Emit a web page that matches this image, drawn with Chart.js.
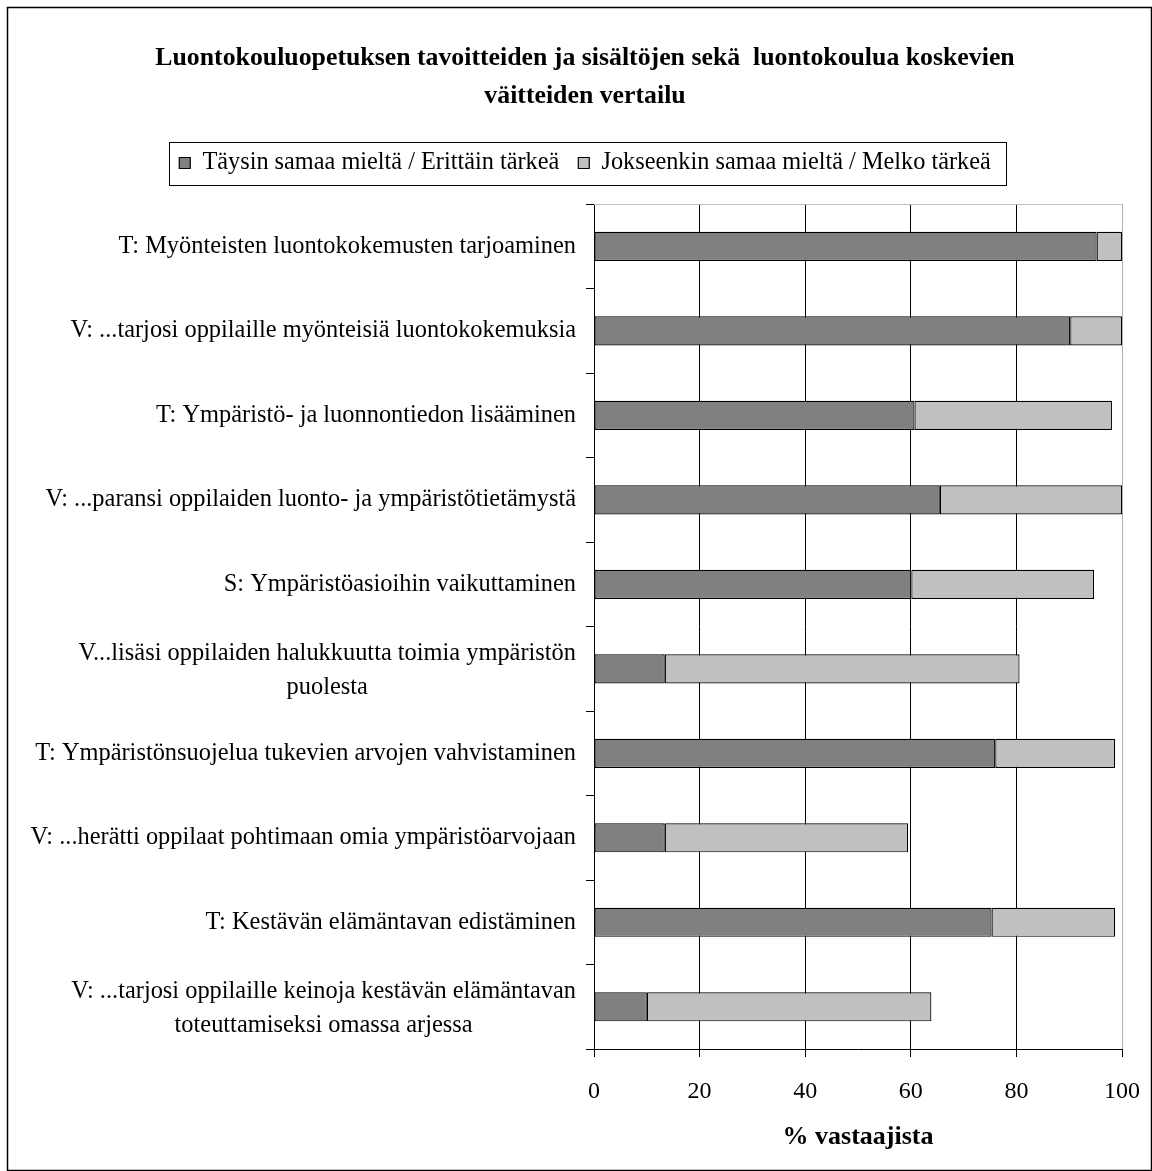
<!DOCTYPE html>
<html lang="fi">
<head>
<meta charset="utf-8">
<title>Luontokouluopetuksen tavoitteiden ja sisältöjen vertailu</title>
<script src="https://cdn.jsdelivr.net/npm/chart.js@4/dist/chart.umd.min.js"></script>
<style>
  html, body { margin: 0; padding: 0; background: #fff; }
  #wrap { position: relative; width: 1152px; height: 1171px; }
  canvas { display: block; }
</style>
</head>
<body>
<div id="wrap"><canvas id="chart" width="1152" height="1171"></canvas></div>
<script>
// Väittämät / tavoitteet (rivit ylhäältä alas)
const categories = [
  ['T: Myönteisten luontokokemusten tarjoaminen'],
  ['V: ...tarjosi oppilaille myönteisiä luontokokemuksia'],
  ['T: Ympäristö- ja luonnontiedon lisääminen'],
  ['V: ...paransi oppilaiden luonto- ja ympäristötietämystä'],
  ['S: Ympäristöasioihin vaikuttaminen'],
  ['V...lisäsi oppilaiden halukkuutta toimia ympäristön', 'puolesta'],
  ['T: Ympäristönsuojelua tukevien arvojen vahvistaminen'],
  ['V: ...herätti oppilaat pohtimaan omia ympäristöarvojaan'],
  ['T: Kestävän elämäntavan edistäminen'],
  ['V: ...tarjosi oppilaille keinoja kestävän elämäntavan', 'toteuttamiseksi omassa arjessa']
];

// % vastaajista
const taysinSamaa = [95.2, 90.2, 60.7, 65.5, 60.1, 13.4, 76.0, 13.4, 75.3, 10.0];
const jokseenkinSamaa = [4.8, 9.8, 37.4, 34.5, 34.6, 67.2, 22.7, 46.1, 23.4, 53.9];

const seriesNames = ['Täysin samaa mieltä / Erittäin tärkeä', 'Jokseenkin samaa mieltä / Melko tärkeä'];
const xTicks = [0, 20, 40, 60, 80, 100];

const titleLines = ['Luontokouluopetuksen tavoitteiden ja sisältöjen sekä  luontokoulua koskevien', 'väitteiden vertailu'];
const xTitle = '% vastaajista';

const SERIF = "'Liberation Serif', 'Times New Roman', serif";
const PAD_LEFT = 48;
const PLOT_LEFT = 594;
const LEGEND_GAP = 19;

// Tyhjä väli selitteen ja kuva-alueen väliin
const legendGap = {
  id: 'legendGap',
  beforeInit(chart) {
    const spacer = {
      position: 'top',
      weight: 0,
      fullSize: true,
      options: {},
      width: 0,
      height: 0,
      left: 0, top: 0, right: 0, bottom: 0,
      isHorizontal() { return true; },
      update(maxWidth) { this.width = maxWidth; this.height = LEGEND_GAP; },
      draw() {}
    };
    Chart.layouts.addBox(chart, spacer);
  }
};

// Kehys, kuvaalueen reunat, selitteen laatikko ja luokkien nimet
const decorations = {
  id: 'decorations',
  beforeDraw(chart) {
    const ctx = chart.ctx;
    ctx.save();
    ctx.fillStyle = '#fff';
    ctx.fillRect(0, 0, chart.width, chart.height);
    ctx.strokeStyle = '#000';
    ctx.lineWidth = 1.5;
    ctx.strokeRect(7.5, 7.5, chart.width - 8, chart.height - 8);
    ctx.restore();
  },
  beforeDatasetsDraw(chart) {
    const {ctx, chartArea} = chart;
    ctx.save();
    ctx.strokeStyle = '#c0c0c0';
    ctx.lineWidth = 1;
    ctx.beginPath();
    ctx.moveTo(chartArea.left, Math.round(chartArea.top) + 0.5);
    ctx.lineTo(chartArea.right, Math.round(chartArea.top) + 0.5);
    ctx.stroke();
    ctx.restore();
  },
  afterDraw(chart) {
    const ctx = chart.ctx;
    const legend = chart.legend;
    ctx.save();
    // selitteen kehys
    if (legend && legend.legendHitBoxes && legend.legendHitBoxes.length) {
      const boxes = legend.legendHitBoxes;
      const l = Math.min(...boxes.map(b => b.left)) - 10;
      const r = Math.max(...boxes.map(b => b.left + b.width)) + 16;
      const cy = boxes[0].top + boxes[0].height / 2;
      ctx.strokeStyle = '#000';
      ctx.lineWidth = 1;
      ctx.strokeRect(Math.round(l) + 0.5, Math.round(cy - 21) + 0.5, Math.round(r - l), 43);
    }
    // luokka-akselin nimet: rivit keskitetty keskenään, lohko tasattu oikealle
    const yScale = chart.scales.y;
    const rightEdge = chart.chartArea.left - 18;
    const lineH = 34;
    ctx.font = '24.4px ' + SERIF;
    ctx.fillStyle = '#000';
    ctx.textAlign = 'center';
    ctx.textBaseline = 'middle';
    categories.forEach((lines, i) => {
      const cy = yScale.getPixelForTick(i);
      const w = Math.max(...lines.map(t => ctx.measureText(t).width));
      const cx = rightEdge - w / 2;
      const y0 = cy - (lines.length - 1) * lineH / 2 + (lines.length > 1 ? 2 : 0);
      lines.forEach((t, k) => ctx.fillText(t, cx, y0 + k * lineH));
    });
    ctx.restore();
  }
};

new Chart(document.getElementById('chart'), {
  type: 'bar',
  data: {
    labels: categories.map(c => c.join(' ')),
    datasets: [
      {
        label: seriesNames[0],
        data: taysinSamaa,
        backgroundColor: '#808080',
        borderColor: '#000',
        borderWidth: 1.2,
        borderSkipped: false,
        barPercentage: 0.345,
        categoryPercentage: 1
      },
      {
        label: seriesNames[1],
        data: jokseenkinSamaa,
        backgroundColor: '#c0c0c0',
        borderColor: '#000',
        borderWidth: 1.2,
        borderSkipped: false,
        barPercentage: 0.345,
        categoryPercentage: 1
      }
    ]
  },
  options: {
    indexAxis: 'y',
    responsive: false,
    devicePixelRatio: 1,
    animation: false,
    layout: { padding: { left: PAD_LEFT, right: 30, top: 10, bottom: 0 } },
    plugins: {
      title: {
        display: true,
        text: titleLines,
        color: '#000',
        font: { family: SERIF, size: 25.8, weight: 'bold', lineHeight: 1.47 },
        padding: { top: 29, bottom: 17 }
      },
      legend: {
        display: true,
        position: 'top',
        labels: {
          color: '#000',
          font: { family: SERIF, size: 24.3 },
          boxWidth: 11,
          boxHeight: 11,
          padding: 19
        }
      },
      tooltip: { enabled: false }
    },
    scales: {
      x: {
        stacked: true,
        min: 0,
        max: 100,
        afterBuildTicks(scale) { scale.ticks = xTicks.map(v => ({ value: v })); },
        afterFit(scale) {
          scale.height = 122;
          scale.paddingLeft = 0;
          scale.paddingRight = 0;
        },
        grid: {
          color: ctx => (ctx.tick && ctx.tick.value === 100 ? '#b0b0b0' : '#000'),
          lineWidth: 1,
          tickLength: 8,
          tickColor: '#000'
        },
        border: { color: '#000', width: 1 },
        ticks: {
          color: '#000',
          font: { family: SERIF, size: 24 },
          padding: 20,
          maxRotation: 0
        },
        title: {
          display: true,
          text: xTitle,
          color: '#000',
          font: { family: SERIF, size: 26, weight: 'bold' },
          padding: { top: 6, bottom: 18 }
        }
      },
      y: {
        stacked: true,
        afterFit(scale) { scale.width = PLOT_LEFT - PAD_LEFT; },
        grid: {
          drawOnChartArea: false,
          drawTicks: true,
          tickLength: 8,
          tickColor: '#000',
          offset: true
        },
        border: { color: '#000', width: 1 },
        ticks: { display: false }
      }
    }
  },
  plugins: [legendGap, decorations]
});
</script>
</body>
</html>
